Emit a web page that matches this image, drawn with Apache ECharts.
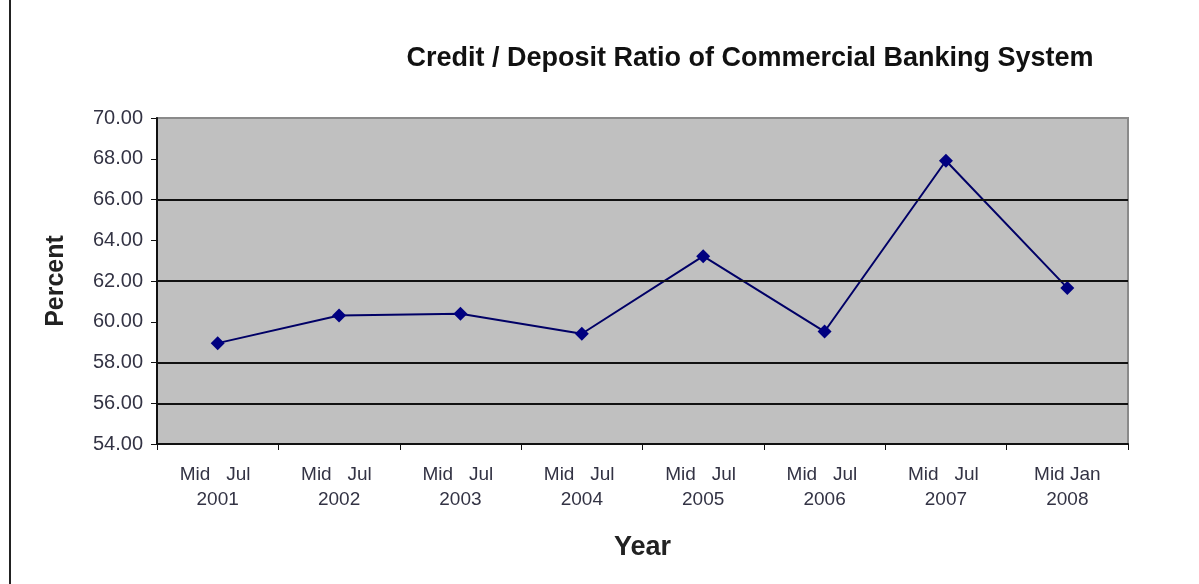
<!DOCTYPE html>
<html>
<head>
<meta charset="utf-8">
<script src="https://cdn.jsdelivr.net/npm/echarts@6/dist/echarts.min.js"></script>
<style>
  html, body { margin: 0; padding: 0; background: #ffffff; }
  #chart { width: 1199px; height: 584px; }
</style>
</head>
<body>
<div id="chart"></div>
<script>
// Credit / deposit ratio of the commercial banking system, by period
const periods = ['Mid   Jul \n2001', 'Mid   Jul \n2002', 'Mid   Jul \n2003', 'Mid   Jul \n2004',
                 'Mid   Jul \n2005', 'Mid   Jul \n2006', 'Mid   Jul \n2007', 'Mid Jan\n2008'];
const ratio = [58.95, 60.31, 60.39, 59.41, 63.22, 59.52, 67.90, 61.66];

// Axis range and the horizontal rules shown across the plot
const yMin = 54, yMax = 70, yStep = 2;
const ruleValues = [56, 58, 62, 66];

const FONT = 'Liberation Sans, Arial, sans-serif';
const chart = echarts.init(document.getElementById('chart'));

chart.setOption({
  animation: false,
  backgroundColor: '#ffffff',
  title: {
    text: 'Credit / Deposit Ratio of Commercial Banking System',
    left: 745,
    textAlign: 'center',
    top: 40,
    textStyle: { fontFamily: FONT, fontSize: 27, fontWeight: 'bold', color: '#111111' }
  },
  graphic: [{
    type: 'line',
    shape: { x1: 10, y1: 0, x2: 10, y2: 584 },
    style: { stroke: '#222222', lineWidth: 2 }
  }],
  grid: {
    left: 157, right: 71, top: 118, bottom: 140,
    show: true,
    backgroundColor: '#c0c0c0',
    borderColor: '#8a8a8a',
    borderWidth: 2
  },
  xAxis: {
    type: 'category',
    data: periods,
    boundaryGap: true,
    name: 'Year',
    nameLocation: 'middle',
    nameGap: 90,
    nameTextStyle: { fontFamily: FONT, fontSize: 27, fontWeight: 'bold', color: '#222222' },
    axisLine: { lineStyle: { color: '#111111', width: 2 } },
    axisTick: { show: true, length: 6, lineStyle: { color: '#111111' } },
    axisLabel: {
      margin: 18,
      fontFamily: FONT,
      fontSize: 19,
      lineHeight: 25,
      color: '#333344'
    },
    splitLine: { show: false }
  },
  yAxis: {
    type: 'value',
    min: yMin, max: yMax, interval: yStep,
    name: 'Percent',
    nameLocation: 'middle',
    nameGap: 88,
    nameRotate: 90,
    nameTextStyle: { fontFamily: FONT, fontSize: 25, fontWeight: 'bold', color: '#222222' },
    axisLine: { show: true, lineStyle: { color: '#111111', width: 2 } },
    axisTick: { show: true, length: 6, lineStyle: { color: '#111111' } },
    axisLabel: {
      margin: 14,
      fontFamily: FONT,
      fontSize: 20,
      color: '#333344',
      formatter: v => v.toFixed(2)
    },
    splitLine: { show: false }
  },
  series: [{
    type: 'line',
    data: ratio,
    symbol: 'diamond',
    symbolSize: 14,
    lineStyle: { color: '#000066', width: 2 },
    itemStyle: { color: '#000080' },
    markLine: {
      silent: true,
      symbol: 'none',
      label: { show: false },
      lineStyle: { color: '#111111', type: 'solid', width: 2 },
      data: ruleValues.map(v => ({ yAxis: v }))
    },
    z: 3
  }]
});
</script>
</body>
</html>
